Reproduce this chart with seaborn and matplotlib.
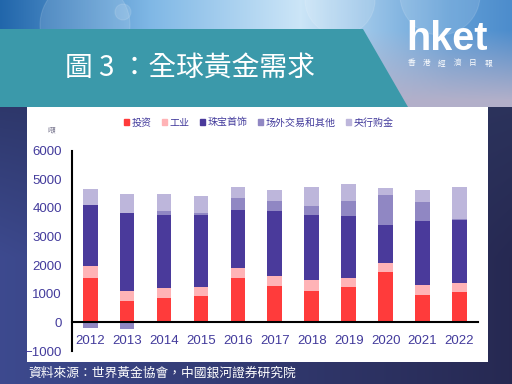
import numpy as np
import pandas as pd
import matplotlib
matplotlib.use('Agg')
import matplotlib.pyplot as plt
import matplotlib.patches as mpatches
import seaborn as sns

# 全球黃金需求（噸）
years = ['2012', '2013', '2014', '2015', '2016', '2017', '2018', '2019', '2020', '2021', '2022']
investment = [1560, 760, 840, 910, 1560, 1265, 1110, 1230, 1760, 960, 1065]
industrial = [410, 350, 355, 330, 340, 340, 355, 330, 300, 340, 305]
jewelry = [2140, 2730, 2565, 2510, 2030, 2275, 2285, 2170, 1350, 2230, 2200]
otc_other = [-190, -220, 130, 80, 430, 370, 330, 520, 1030, 680, 50]
central_banks = [560, 630, 580, 590, 385, 390, 665, 590, 270, 430, 1120]

series_names = ['投资', '工业', '珠宝首饰', '场外交易和其他', '央行购金']
series_colors = ['#ff3b3b', '#ffb3b6', '#4a3a9b', '#9087c3', '#bdb6db']
y_ticks = [-1000, 0, 1000, 2000, 3000, 4000, 5000, 6000]

title = '圖 3 ：全球黃金需求'
source = '資料來源：世界黃金協會，中國銀河證券研究院'
label_col = '#433b9c'

sns.set_style('white')
plt.rcParams['font.family'] = ['Liberation Sans', 'Noto Sans CJK TC', 'DejaVu Sans']

df = pd.DataFrame({'year': years, 'inv': investment, 'ind': industrial,
                   'jew': jewelry, 'otc': otc_other, 'cb': central_banks})
# positive parts stack upward, negative OTC hangs below zero
df['c_inv'] = df['inv']
df['c_ind'] = df['c_inv'] + df['ind']
df['c_jew'] = df['c_ind'] + df['jew']
df['c_otc'] = df['c_jew'] + df['otc'].clip(lower=0)
df['c_cb'] = df['c_otc'] + df['cb']
df['otc_neg'] = df['otc'].clip(upper=0)

W, H = 512, 384
fig = plt.figure(figsize=(W / 100, H / 100), dpi=100)

# ---- background (page styling) ----
bg = fig.add_axes([0, 0, 1, 1])
yy, xx = np.mgrid[0:H, 0:W].astype(float)
t = (xx / W)[..., None]
navy_l = np.array([0.24, 0.29, 0.56])
navy_r = np.array([0.15, 0.16, 0.32])
vert = np.clip((yy - 107) / 150, 0, 1)[..., None]
base = navy_l * (1 - t) + navy_r * t
base = base * (0.75 + 0.25 * vert) + np.array([0.23, 0.31, 0.47]) * (0.25 * (1 - vert)) * t
sky_x = [0, 150, 300, 450, 512]
sky_c = np.array([[0.13, 0.40, 0.67], [0.50, 0.72, 0.90], [0.80, 0.90, 0.97],
                  [0.38, 0.62, 0.84], [0.30, 0.55, 0.80]])
sky = np.stack([np.interp(xx, sky_x, sky_c[:, k]) for k in range(3)], axis=-1)
lav = np.array([0.70, 0.69, 0.79])
wl = np.clip((yy - 30) / 70, 0, 1)[..., None]
top = sky * (1 - wl) + lav * wl
img = np.where((yy < 107)[..., None], top, base)
bg.imshow(np.clip(img, 0, 1), extent=(0, W, H, 0), aspect='auto', zorder=0)
for cx, cy, r in [(85, 25, 45), (123, 12, 8), (340, 0, 35), (440, -5, 40), (230, 60, 30)]:
    bg.add_patch(mpatches.Circle((cx, cy), r, facecolor='white', alpha=0.12,
                                 edgecolor='white', linewidth=0.8, zorder=1))
bg.add_patch(mpatches.Polygon([(0, 29), (363, 29), (408, 107), (0, 107)],
                              closed=True, facecolor='#3b99aa', edgecolor='none', zorder=2))
bg.add_patch(mpatches.Rectangle((27, 107), 461, 255, facecolor='white', edgecolor='none', zorder=2))
bg.set_xlim(0, W)
bg.set_ylim(H, 0)
bg.axis('off')

bg.text(65, 68, title, fontsize=20, color='white', va='center', ha='left',
        fontweight='light', family=['Noto Sans CJK TC'], zorder=3)
bg.text(406, 50.5, 'hket', fontsize=28.5, fontweight='bold', color='white',
        ha='left', va='baseline', family=['Liberation Sans'], zorder=3)
for i, ch in enumerate('香港經濟日報'):
    bg.text(411 + i * 15.4, 65.5, ch, fontsize=5.5, color='white', ha='center', va='baseline',
            family=['Noto Sans CJK TC'], zorder=3)
bg.text(28, 373, source, fontsize=9.2, color='white', va='center', ha='left',
        family=['Noto Sans CJK TC'], zorder=3)
bg.text(51, 130, '噸', fontsize=5.5, color='#7a7890', ha='center', va='center',
        family=['Noto Sans CJK TC'], zorder=3)

# ---- chart ----
x0, x1, ytop, ybot = 71.7, 478.0, 150.7, 351.0
ax = fig.add_axes([x0 / W, 1 - ybot / H, (x1 - x0) / W, (ybot - ytop) / H])
ax.patch.set_alpha(0)

for col, i in [('c_cb', 4), ('c_otc', 3), ('c_jew', 2), ('c_ind', 1), ('c_inv', 0)]:
    sns.barplot(data=df, x='year', y=col, color=series_colors[i], width=0.4,
                saturation=1, errorbar=None, linewidth=0, ax=ax)
sns.barplot(data=df, x='year', y='otc_neg', color=series_colors[3], width=0.4,
            saturation=1, errorbar=None, linewidth=0, ax=ax)

ax.set_xlim(-0.5, len(years) - 0.5)
ax.set_ylim(-1000, 6000)
ax.set_yticks(y_ticks)
ax.set_xticks(range(len(years)))
ax.set_xticklabels(years)
ax.set_xticks(np.arange(-0.5, len(years), 1), minor=True)
ax.set_xlabel('')
ax.set_ylabel('')
for s in ['top', 'right']:
    ax.spines[s].set_visible(False)
ax.spines['bottom'].set_position(('data', 0))
for s in ['left', 'bottom']:
    ax.spines[s].set_linewidth(1.5)
    ax.spines[s].set_color('black')
ax.tick_params(axis='x', which='major', length=0, pad=9, labelsize=9.5, labelcolor=label_col)
ax.tick_params(axis='x', which='minor', direction='in', length=3, width=1.3, color='black')
ax.tick_params(axis='y', direction='in', length=3, width=1.3, color='black', pad=7,
               labelsize=9.5, labelcolor=label_col)

handles = [mpatches.Patch(color=c, label=n) for c, n in zip(series_colors, series_names)]
fig.legend(handles=handles, loc='center', bbox_to_anchor=(258.5 / W, 1 - 122.5 / H),
           ncol=5, frameon=False, fontsize=7.2, handlelength=0.5, handleheight=0.5,
           handletextpad=0.3, columnspacing=1.0, labelcolor=label_col,
           prop={'family': ['Noto Sans CJK SC'], 'size': 7.2})

fig.savefig('out.png', dpi=100)
